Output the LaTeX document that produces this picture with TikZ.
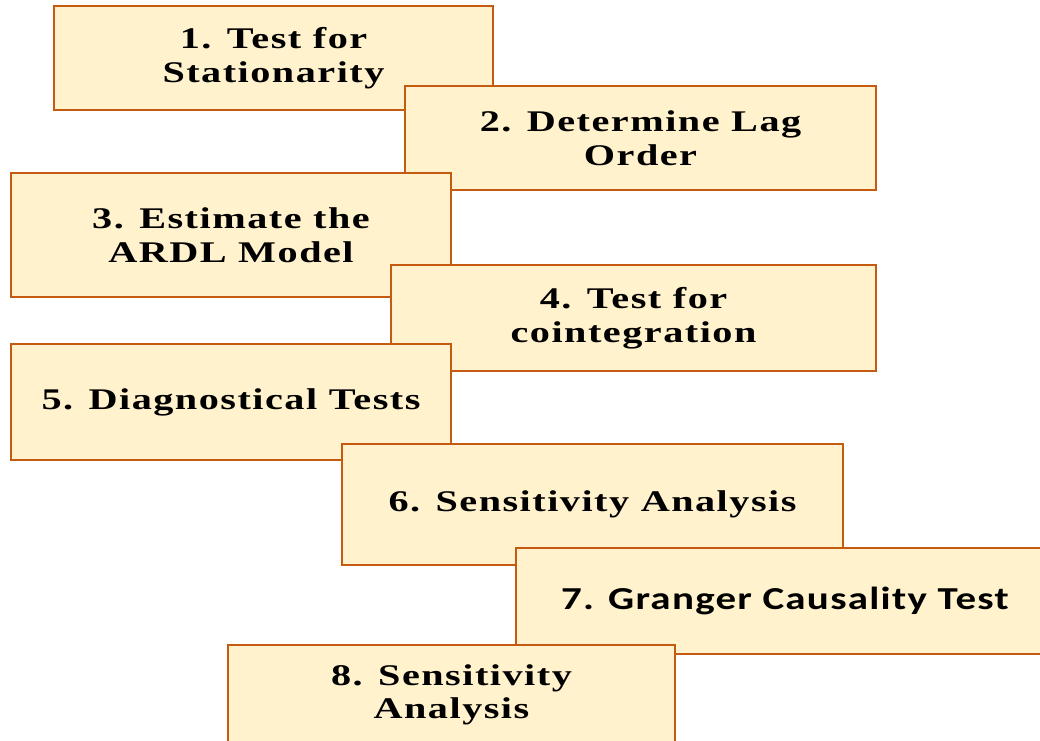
\documentclass[tikz,border=0pt]{standalone}
\usepackage{fontspec}
\usepackage{xcolor}
\usetikzlibrary{positioning}
\newfontfamily\stepserif{Liberation Serif}[FakeStretch=1.34,LetterSpace=5]
\newfontfamily\stepsans{Carlito}[FakeStretch=1.28,LetterSpace=4]
\definecolor{ardlfill}{HTML}{FFF2CC}
\definecolor{ardledge}{HTML}{C55A11}

\begin{document}
\begin{tikzpicture}[x=0.5pt,y=-0.5pt,
  stepbox/.style={rectangle,draw=ardledge,fill=ardlfill,line width=1.4pt,
    align=center,inner sep=0pt,font=\stepserif\bfseries\fontsize{15}{16.8}\selectfont},
  sansbox/.style={stepbox,font=\stepsans\bfseries\fontsize{16}{16.8}\selectfont}]

  \useasboundingbox (0,0) rectangle (1040,740);
  \clip (0,0) rectangle (1040,740);

  % steps, each one laid over the one before
  \node[stepbox,minimum width=219.5pt,minimum height=52pt] (s1) at (273.5,58) {1. Test for\\Stationarity};
  \node[stepbox,minimum width=235.5pt,minimum height=52pt] (s2) at (640.5,138) {2. Determine Lag\\Order};
  \node[stepbox,minimum width=220pt,minimum height=62pt] (s3) at (231,235) {3. Estimate the\\ARDL Model};
  \node[stepbox,minimum width=242.5pt,minimum height=53pt] (s4) at (633.5,318) {4. Test for\\cointegration};
  \node[stepbox,minimum width=220pt,minimum height=58pt] (s5) at (231,402) {5. Diagnostical Tests};
  \node[stepbox,minimum width=250.5pt,minimum height=60.5pt] (s6) at (592.5,504.5) {6. Sensitivity Analysis};
  \node[sansbox,minimum width=269pt,minimum height=53pt] (s7) at (785,601) {7. Granger Causality Test};
  \node[stepbox,minimum width=223.5pt,minimum height=50pt] (s8) at (451.5,695) {8. Sensitivity\\Analysis};

\end{tikzpicture}
\end{document}
